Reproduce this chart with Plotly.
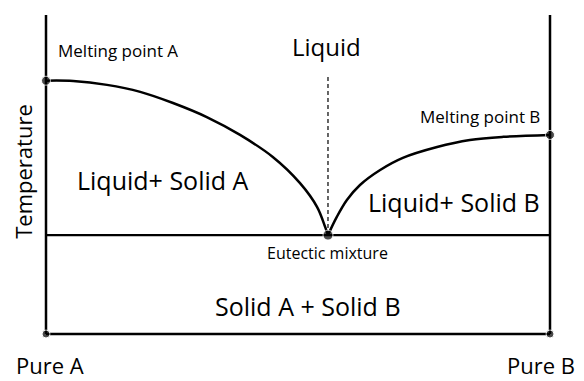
import plotly.graph_objects as go

# composition = fraction of B (0 = pure A, 1 = pure B), temperature in relative units
liq_a_x = [0.0, 0.054, 0.121, 0.187, 0.252, 0.319, 0.385, 0.450, 0.504, 0.538, 0.554, 0.5595]
liq_a_t = [79.4, 79.3, 78.1, 75.9, 72.4, 68.0, 62.4, 55.5, 47.3, 39.8, 33.5, 31.0]

liq_b_x = [0.5595, 0.577, 0.597, 0.623, 0.663, 0.708, 0.776, 0.841, 0.907, 1.0]
liq_b_t = [31.0, 36.7, 42.0, 46.7, 51.4, 55.2, 58.6, 60.8, 61.8, 62.4]

eutectic_x = 0.5595
eutectic_t = 31.0
melt_a_t = 79.4
melt_b_t = 62.4
t_top = 100
liquid_line_top = 81.2

font = "Open Sans"
ink = "#000000"

fig = go.Figure()

def seg(x, y, width=2.5, dash="solid", shape="linear"):
    fig.add_trace(go.Scatter(x=x, y=y, mode="lines", hoverinfo="skip",
                             line=dict(color=ink, width=width, dash=dash, shape=shape)))

# frame: two verticals, bottom line, eutectic line
seg([0, 0], [0, t_top])
seg([1, 1], [0, t_top])
seg([0, 1], [0, 0])
seg([0, 1], [eutectic_t, eutectic_t], width=2.2)
# liquidus curves
seg(liq_a_x, liq_a_t, shape="spline")
seg(liq_b_x, liq_b_t, shape="spline")
# dashed line above the eutectic point
seg([eutectic_x, eutectic_x], [eutectic_t, liquid_line_top], width=1.2, dash="4px,3px")

# dots
fig.add_trace(go.Scatter(
    x=[0, 1, eutectic_x, 0, 1],
    y=[melt_a_t, melt_b_t, eutectic_t, 0, 0],
    mode="markers", hoverinfo="skip",
    marker=dict(color=ink, size=[9, 9, 10, 8, 8])))

labels = [
    ("Melting point A", 0.022, 89.0, 17, "left"),
    ("Liquid", 0.5556, 90.0, 24, "center"),
    ("Melting point B", 0.861, 68.3, 17, "center"),
    ("Liquid+ Solid A", 0.232, 48.3, 25, "center"),
    ("Liquid+ Solid B", 0.8095, 41.4, 25, "center"),
    ("Eutectic mixture", 0.5595, 25.4, 16, "center"),
    ("Solid A + Solid B", 0.52, 8.8, 25, "center"),
    ("Pure A", 0.008, -9.6, 22, "center"),
    ("Pure B", 0.982, -9.6, 22, "center"),
]
for text, x, y, size, anchor in labels:
    fig.add_annotation(x=x, y=y, text=text, showarrow=False, xanchor=anchor,
                       yanchor="middle", borderpad=0,
                       font=dict(family=font, size=size, color=ink))

fig.add_annotation(x=-0.046, y=51.1, text="Temperature", textangle=-90, showarrow=False,
                   font=dict(family=font, size=22, color=ink))

# the page adds an 8px body margin, so the figure is 8px smaller than the window
fig.update_layout(
    width=576, height=373,
    margin=dict(l=0, r=0, t=0, b=0),
    paper_bgcolor="white", plot_bgcolor="white",
    showlegend=False,
)
fig.update_xaxes(range=[-0.0754, 1.06746], visible=False, fixedrange=True)
fig.update_yaxes(range=[-14.734, 102.194], visible=False, fixedrange=True)

fig.write_html("out.html")
